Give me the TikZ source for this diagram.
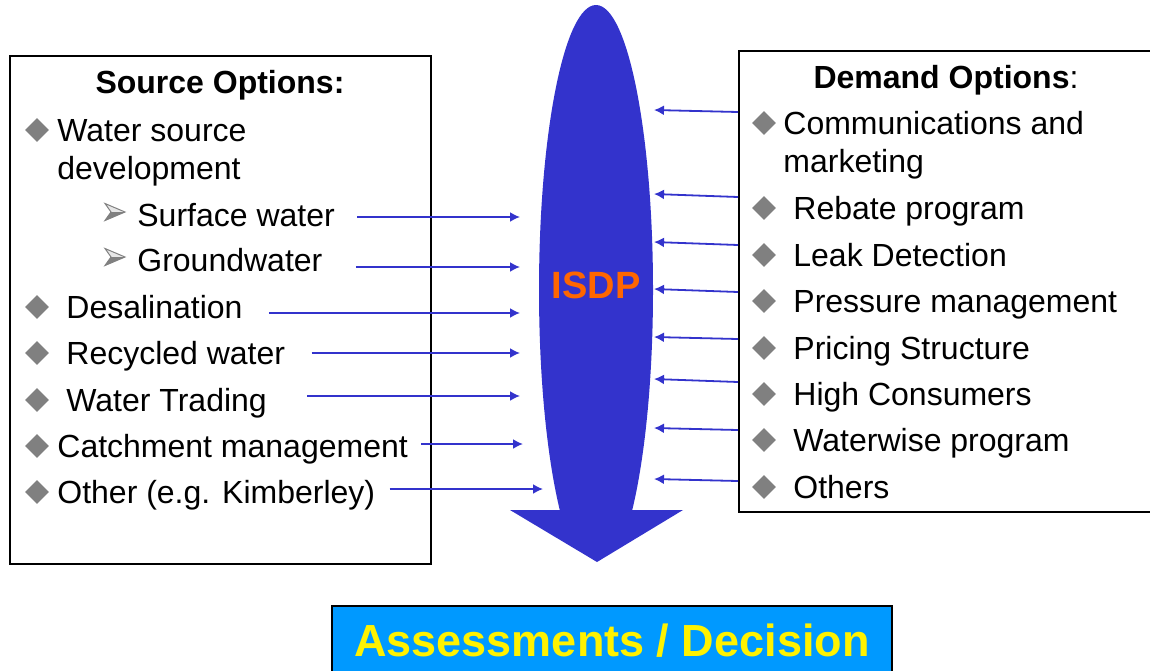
\documentclass[tikz,border=0pt]{standalone}
\usepackage{fontspec}
\setmainfont{Liberation Sans}
\usetikzlibrary{shapes.geometric,arrows.meta}

\definecolor{isdpblue}{HTML}{3333CC}
\definecolor{isdporange}{HTML}{FF6600}
\definecolor{deciblue}{HTML}{0099FF}
\definecolor{bulletgray}{HTML}{808080}

\tikzset{
  optbox/.style={draw=black, line width=1pt, anchor=north west, inner sep=0},
  optitem/.style={anchor=west, inner sep=0, font=\fontsize{16}{19}\selectfont,
    text height=14.5pt, text depth=3.5pt},
  opthead/.style={inner sep=0, font=\fontsize{16}{19}\selectfont\bfseries},
  optbullet/.style={diamond, fill=bulletgray, inner sep=0, minimum size=12pt},
  subarrow/.pic={
    \draw[bulletgray, line width=0.5pt, fill=bulletgray!20]
      (-10,-8.5) -- (10,0) -- (-10,8.5) -- (-4,0) -- cycle;
    \fill[bulletgray] (-4,0) -- (10,0) -- (-10,8.5) -- cycle;
  },
  flow/.style={draw=isdpblue, line width=0.9pt, -{Latex[length=5pt,width=5pt]}},
}

\begin{document}
\begin{tikzpicture}[x=0.5pt, y=-0.5pt]
    \useasboundingbox (0,0) rectangle (1150,670);
    \clip (0,0) rectangle (1150,670);

    % central ISDP arrow
    \begin{scope}
        \clip (500,0) rectangle (700,510);
        \fill[isdpblue] (596,290) ellipse [x radius=28.5pt, y radius=142.5pt];
    \end{scope}
    \fill[isdpblue] (510,510) -- (683,510) -- (597,562) -- cycle;
    \node[inner sep=0, text=isdporange, font=\fontsize{19}{20}\selectfont\bfseries] (isdp) at (596,285) {ISDP};

    % source options
    \node[optbox, minimum width=210.5pt, minimum height=254pt] (srcbox) at (9,55) {};
    \node[opthead] (srchead) at (220,85) {Source Options:};

    \node[optbullet] (b1) at (37,130) {};
    \node[optitem] (wsd1) at (57,130) {Water source};
    \node[optitem] (wsd2) at (57,168) {development};
    \pic (s1) at (115,212) {subarrow};
    \node[optitem] (srf) at (137,215) {Surface water};
    \pic (s2) at (115,257) {subarrow};
    \node[optitem] (gnd) at (137,260) {Groundwater};
    \node[optbullet] (b2) at (37,307) {};
    \node[optitem] (des) at (66,307) {Desalination};
    \node[optbullet] (b3) at (37,353) {};
    \node[optitem] (rec) at (66,353) {Recycled water};
    \node[optbullet] (b4) at (37,400) {};
    \node[optitem] (wtr) at (66,400) {Water Trading};
    \node[optbullet] (b5) at (37,446) {};
    \node[optitem] (cat) at (57,446) {Catchment management};
    \node[optbullet] (b6) at (37,492) {};
    \node[optitem] (oth) at (57,492) {Other (e.g. Kimberley)};

    \coordinate (srf-in) at (520,217);
    \coordinate (gnd-in) at (520,267);
    \coordinate (des-in) at (520,313);
    \coordinate (rec-in) at (520,353);
    \coordinate (wtr-in) at (520,396);
    \coordinate (cat-in) at (523,444);
    \coordinate (oth-in) at (543,489);

    \draw[flow, shorten <=11pt] (srf.east |- srf-in) -- (srf-in);
    \draw[flow, shorten <=16.5pt] (gnd.east |- gnd-in) -- (gnd-in);
    \draw[flow, shorten <=13pt] (des.east |- des-in) -- (des-in);
    \draw[flow, shorten <=13pt] (rec.east |- rec-in) -- (rec-in);
    \draw[flow, shorten <=20pt] (wtr.east |- wtr-in) -- (wtr-in);
    \draw[flow, shorten <=6.5pt] (cat.east |- cat-in) -- (cat-in);
    \draw[flow, shorten <=7pt] (oth.east |- oth-in) -- (oth-in);

    % demand options
    \node[optbox, minimum width=211pt, minimum height=230.5pt] (dbox) at (738,50) {};
    \node[opthead] (dhead) at (946,80) {Demand Options\textmd{:}};

    \node[optbullet] (d1) at (764,123) {};
    \node[optitem] (com) at (783,123) {Communications and};
    \node[optitem] (mkt) at (783,161) {marketing};
    \node[optbullet] (d2) at (764,208) {};
    \node[optitem] (rbt) at (793,208) {Rebate program};
    \node[optbullet] (d3) at (764,255) {};
    \node[optitem] (lkd) at (793,255) {Leak Detection};
    \node[optbullet] (d4) at (764,301) {};
    \node[optitem] (prs) at (793,301) {Pressure management};
    \node[optbullet] (d5) at (764,348) {};
    \node[optitem] (prc) at (793,348) {Pricing Structure};
    \node[optbullet] (d6) at (764,394) {};
    \node[optitem] (hic) at (793,394) {High Consumers};
    \node[optbullet] (d7) at (764,440) {};
    \node[optitem] (wwp) at (793,440) {Waterwise program};
    \node[optbullet] (d8) at (764,487) {};
    \node[optitem] (oths) at (793,487) {Others};

    \coordinate (com-in) at (654,110);
    \coordinate (rbt-in) at (654,194);
    \coordinate (lkd-in) at (654,242);
    \coordinate (prs-in) at (654,289);
    \coordinate (prc-in) at (654,337);
    \coordinate (hic-in) at (654,379);
    \coordinate (wwp-in) at (654,428);
    \coordinate (oths-in) at (654,479);

    \draw[flow] (dbox.west |- 0,112) -- (com-in);
    \draw[flow] (dbox.west |- 0,197) -- (rbt-in);
    \draw[flow] (dbox.west |- 0,245) -- (lkd-in);
    \draw[flow] (dbox.west |- 0,292) -- (prs-in);
    \draw[flow] (dbox.west |- 0,339) -- (prc-in);
    \draw[flow] (dbox.west |- 0,382) -- (hic-in);
    \draw[flow] (dbox.west |- 0,430) -- (wwp-in);
    \draw[flow] (dbox.west |- 0,481) -- (oths-in);

    % outcome
    \node[draw=black, line width=1pt, fill=deciblue, minimum width=280pt, minimum height=35pt,
          inner sep=0, anchor=north, text=yellow, font=\fontsize{22.5}{24}\selectfont\bfseries]
          (decision) at (612,605) {Assessments / Decision};
\end{tikzpicture}
\end{document}
